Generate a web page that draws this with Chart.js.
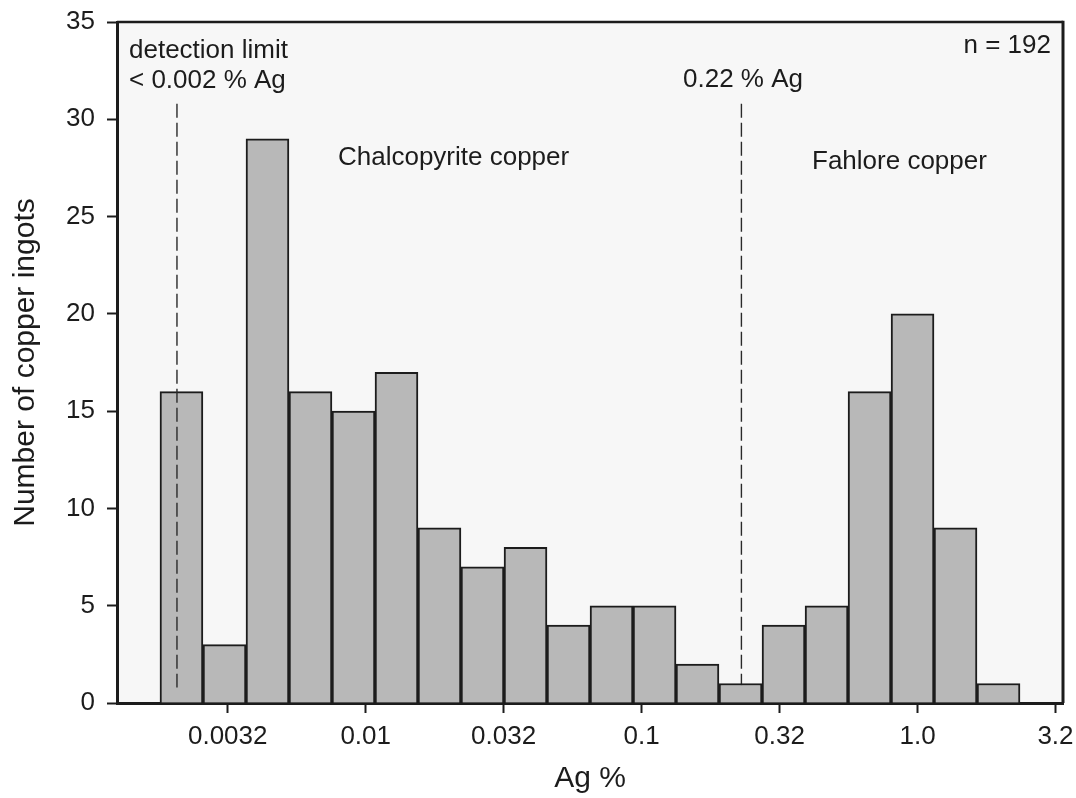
<!DOCTYPE html>
<html>
<head>
<meta charset="utf-8">
<script src="https://cdn.jsdelivr.net/npm/chart.js@4/dist/chart.umd.min.js"></script>
<style>
  html, body { margin: 0; padding: 0; background: #fff; }
</style>
</head>
<body>
<canvas id="chart" width="1076" height="798"></canvas>
<script>
// Ag % at the middle of each histogram bin (bins are equal on a log axis)
const binCenters = [
  0.002149, 0.003078, 0.004406, 0.006308, 0.009030,
  0.01293, 0.01851, 0.02650, 0.03795, 0.05433,
  0.07779, 0.1114, 0.1594, 0.2283, 0.3268,
  0.4680, 0.6700, 0.9592, 1.373, 1.966
];
const counts = [16, 3, 29, 16, 15, 17, 9, 7, 8, 4, 5, 5, 2, 1, 4, 5, 16, 20, 9, 1];

const tickValues = [0.003162, 0.01, 0.03162, 0.1, 0.3162, 1, 3.162];
const tickLabels = ["0.0032", "0.01", "0.032", "0.1", "0.32", "1.0", "3.2"];
const yTicks = [0, 5, 10, 15, 20, 25, 30, 35];

// the two dashed markers, in Ag %
const detectionLimit = 0.00207;
const fahloreLimit = 0.23;

const FONT = "'Liberation Sans', Arial, Helvetica, sans-serif";
const INK = "#1c1c1c";

// text notes placed in data units (x = Ag %, y = count)
const notes = [
  { text: "detection limit", x: 0.001387, y: 33.15, align: "left" },
  { text: "< 0.002 % Ag", x: 0.001387, y: 31.6, align: "left" },
  { text: "0.22 % Ag", x: 0.1413, y: 31.66, align: "left" },
  { text: "n = 192", x: 3.045, y: 33.41, align: "right" },
  { text: "Chalcopyrite copper", x: 0.007934, y: 27.65, align: "left" },
  { text: "Fahlore copper", x: 0.4146, y: 27.44, align: "left" }
];

function dashedMarker(chart, value, top) {
  const { ctx, scales } = chart;
  const x = scales.x.getPixelForValue(value);
  ctx.save();
  ctx.strokeStyle = "#2a2a2a";
  ctx.lineWidth = 1.4;
  ctx.setLineDash([14, 5]);
  ctx.beginPath();
  ctx.moveTo(x, scales.y.getPixelForValue(top));
  ctx.lineTo(x, scales.y.getPixelForValue(0.8));
  ctx.stroke();
  ctx.restore();
}

const plotDecor = {
  id: "plotDecor",
  beforeDraw(chart) {
    const { ctx, chartArea: a } = chart;
    ctx.save();
    ctx.fillStyle = "#f7f7f7";
    ctx.fillRect(a.left, a.top, a.right - a.left, a.bottom - a.top);
    ctx.restore();
  },
  beforeDatasetsDraw(chart) {
    dashedMarker(chart, fahloreLimit, 30.8);
  },
  afterDatasetsDraw(chart) {
    dashedMarker(chart, detectionLimit, 30.8);
  },
  afterDraw(chart) {
    const { ctx, chartArea: a, scales } = chart;
    ctx.save();
    ctx.strokeStyle = INK;
    ctx.lineWidth = 2.5;
    ctx.beginPath();
    ctx.moveTo(a.left, a.top);
    ctx.lineTo(a.right, a.top);
    ctx.stroke();
    ctx.lineWidth = 3;
    ctx.beginPath();
    ctx.moveTo(a.right, a.top - 1.2);
    ctx.lineTo(a.right, a.bottom);
    ctx.stroke();

    ctx.fillStyle = INK;
    ctx.font = "26px " + FONT;
    ctx.textBaseline = "alphabetic";
    notes.forEach((n) => {
      ctx.textAlign = n.align;
      ctx.fillText(n.text, scales.x.getPixelForValue(n.x), scales.y.getPixelForValue(n.y));
    });
    ctx.restore();
  }
};

new Chart(document.getElementById("chart"), {
  type: "bar",
  data: {
    datasets: [
      {
        label: "Copper ingots",
        data: binCenters.map((x, i) => ({ x: x, y: counts[i] })),
        backgroundColor: "#b8b8b8",
        borderColor: INK,
        borderWidth: 2,
        barPercentage: 1,
        categoryPercentage: 1
      }
    ]
  },
  options: {
    responsive: false,
    animation: false,
    layout: { padding: { top: 22, right: 13, left: 0, bottom: 0 } },
    plugins: {
      legend: { display: false },
      tooltip: { enabled: false }
    },
    scales: {
      x: {
        type: "logarithmic",
        min: 0.001255,
        max: 3.367,
        offset: false,
        z: 1,
        afterBuildTicks: (scale) => {
          scale.ticks = tickValues.map((v) => ({ value: v }));
        },
        afterFit: (scale) => {
          scale.height = 95;
          scale.paddingLeft = 0;
          scale.paddingRight = 0;
        },
        ticks: {
          autoSkip: false,
          maxRotation: 0,
          padding: 8,
          color: INK,
          font: { family: FONT, size: 26 },
          callback: (value, index) => tickLabels[index]
        },
        grid: {
          offset: false,
          drawOnChartArea: false,
          drawTicks: true,
          tickLength: 10,
          tickWidth: 2,
          tickColor: INK
        },
        border: { display: true, width: 3, color: INK },
        title: {
          display: true,
          text: "Ag %",
          color: INK,
          font: { family: FONT, size: 30 },
          padding: { top: 0, bottom: 1 }
        }
      },
      y: {
        type: "linear",
        min: 0,
        max: 35,
        afterBuildTicks: (scale) => {
          scale.ticks = yTicks.map((v) => ({ value: v }));
        },
        afterFit: (scale) => {
          scale.width = 117;
          scale.paddingTop = 0;
          scale.paddingBottom = 0;
        },
        ticks: {
          padding: 12,
          color: INK,
          font: { family: FONT, size: 26 }
        },
        grid: {
          drawOnChartArea: false,
          drawTicks: true,
          tickLength: 10,
          tickWidth: 2,
          tickColor: INK
        },
        border: { display: true, width: 3, color: INK },
        title: {
          display: true,
          text: "Number of copper ingots",
          color: INK,
          font: { family: FONT, size: 30 },
          padding: { top: 8, bottom: 0 }
        }
      }
    }
  },
  plugins: [plotDecor]
});
</script>
</body>
</html>
